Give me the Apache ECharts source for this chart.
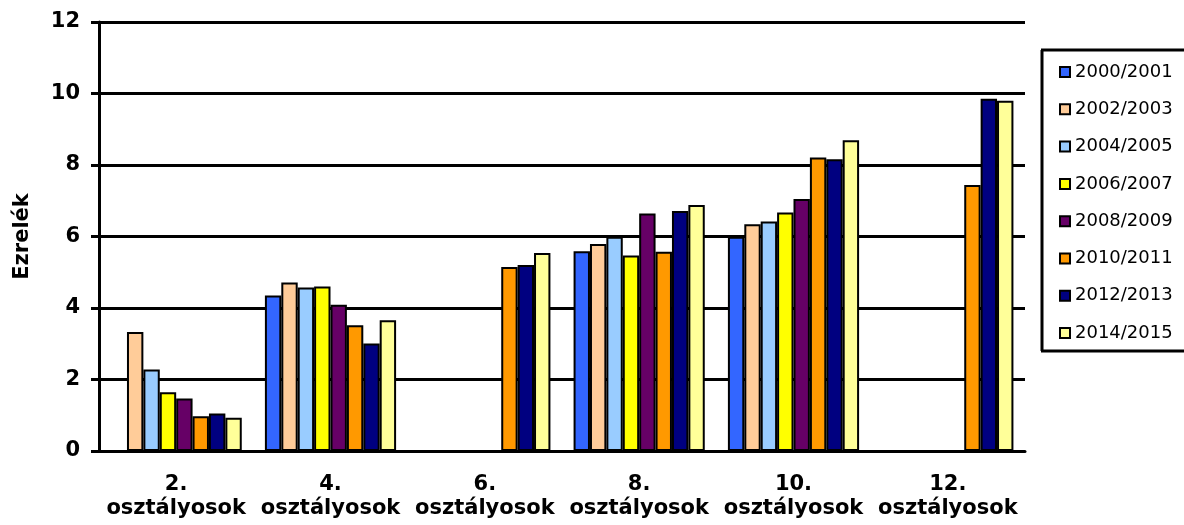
<!DOCTYPE html>
<html>
<head>
<meta charset="utf-8">
<script src="https://cdn.jsdelivr.net/npm/echarts@6/dist/echarts.min.js"></script>
<style>
  body { margin: 0; background: #fff; overflow: hidden; }
  #main { width: 1184px; height: 525px; }
</style>
</head>
<body>
<div id="main"></div>
<script>
// osztályok és tanévek
const categories = ['2.\nosztályosok', '4.\nosztályosok', '6.\nosztályosok', '8.\nosztályosok', '10.\nosztályosok', '12.\nosztályosok'];
const years = ['2000/2001', '2002/2003', '2004/2005', '2006/2007', '2008/2009', '2010/2011', '2012/2013', '2014/2015'];
const yTicks = [0, 2, 4, 6, 8, 10, 12];

const v2000 = [null, 4.35, null, 5.59, 5.99, null];
const v2002 = [3.33, 4.71, null, 5.79, 6.34, null];
const v2004 = [2.28, 4.57, null, 5.99, 6.42, null];
const v2006 = [1.64, 4.60, null, 5.47, 6.67, null];
const v2008 = [1.47, 4.09, null, 6.64, 7.05, null];
const v2010 = [0.97, 3.52, 5.15, 5.57, 8.21, 7.44];
const v2012 = [1.05, 3.01, 5.20, 6.71, 8.16, 9.85];
const v2014 = [0.93, 3.66, 5.54, 6.88, 8.69, 9.80];

const values = [v2000, v2002, v2004, v2006, v2008, v2010, v2012, v2014];
const colors = ['#3366FF', '#FFCC99', '#99CCFF', '#FFFF00', '#660066', '#FF9900', '#000080', '#FFFF99'];

const font = 'DejaVu Sans';
const myChart = echarts.init(document.getElementById('main'));

myChart.setOption({
    animation: false,
    color: colors,
    grid: { left: 99, top: 22, width: 926, height: 429, containLabel: false, outerBoundsMode: 'none' },
    legend: {
        orient: 'vertical',
        left: 1059,
        top: 63,
        padding: 0,
        itemWidth: 10,
        itemHeight: 10,
        itemGap: 19.3,
        icon: 'rect',
        z: 10,
        itemStyle: { borderColor: '#000', borderWidth: 2 },
        textStyle: { fontFamily: font, fontSize: 18, fontWeight: 'normal', color: '#000', lineHeight: 18 },
        data: years
    },
    // jelmagyarázat kerete (jobb oldala kilóg a képből)
    graphic: [
        { type: 'line', z: 1, shape: { x1: 1041, y1: 50, x2: 1184, y2: 50 }, style: { stroke: '#000', lineWidth: 3 } },
        { type: 'line', z: 1, shape: { x1: 1041, y1: 351, x2: 1184, y2: 351 }, style: { stroke: '#000', lineWidth: 3 } },
        { type: 'line', z: 1, shape: { x1: 1042, y1: 50, x2: 1042, y2: 351 }, style: { stroke: '#000', lineWidth: 3 } }
    ],
    xAxis: {
        type: 'category',
        data: categories,
        axisLine: { lineStyle: { color: '#000', width: 3 } },
        axisTick: { length: 8, lineStyle: { color: '#000', width: 3 } },
        axisLabel: {
            interval: 0,
            margin: 22,
            color: '#000',
            fontFamily: font,
            fontWeight: 'bold',
            fontSize: 21,
            lineHeight: 24
        }
    },
    yAxis: {
        type: 'value',
        min: yTicks[0],
        max: yTicks[yTicks.length - 1],
        interval: 2,
        name: 'Ezrelék',
        nameLocation: 'middle',
        nameGap: 66,
        nameTextStyle: { fontFamily: font, fontWeight: 'bold', fontSize: 21, color: '#000' },
        axisLine: { show: true, lineStyle: { color: '#000', width: 3 } },
        axisTick: { show: true, length: 8, lineStyle: { color: '#000', width: 3 } },
        splitLine: { lineStyle: { color: '#000', width: 3 } },
        axisLabel: {
            margin: 19,
            color: '#000',
            fontFamily: font,
            fontWeight: 'bold',
            fontSize: 21
        }
    },
    series: years.map((y, i) => ({
        name: y,
        type: 'bar',
        data: values[i],
        barGap: '0%',
        barCategoryGap: '15%',
        itemStyle: { color: colors[i], borderColor: '#000', borderWidth: 2 }
    }))
});
</script>
</body>
</html>
